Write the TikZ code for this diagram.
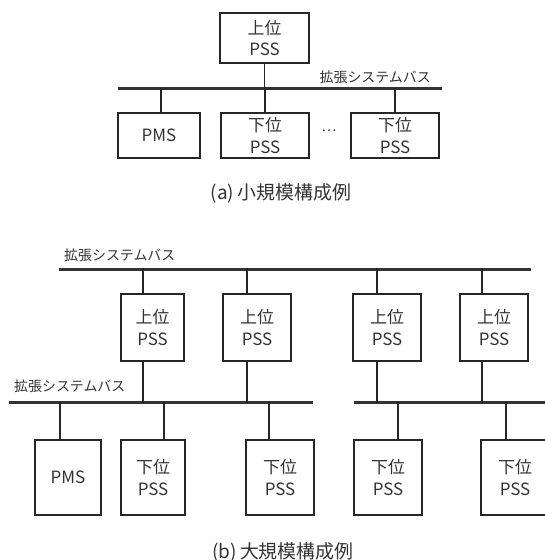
\documentclass[tikz,border=0pt]{standalone}
\usepackage{fontspec}
\setmainfont{Noto Sans CJK JP}
\begin{document}
\begin{tikzpicture}[x=1bp,y=-1bp,
  box/.style={draw=black!85,line width=1.4bp,rectangle,inner sep=0pt,align=center,
    font=\fontsize{17}{22}\selectfont,text=black!80},
  bus/.style={draw=black!80,line width=3bp},
  wire/.style={draw=black!85,line width=1.4bp},
  buslabel/.style={font=\fontsize{14}{15}\selectfont,text=black!80,inner sep=0pt},
  caption/.style={font=\fontsize{19}{20}\selectfont,text=black!80,inner sep=0pt}]
\useasboundingbox (0,0) rectangle (545,560);
% ---------- (a) ----------
\node[box,minimum width=89bp,minimum height=50bp] (ta) at (264.5,38) {上位\\PSS};
\coordinate (abusL) at (118,89);
\coordinate (abusR) at (442,89);
\draw[bus] (abusL) -- (abusR);
\node[buslabel,anchor=east] (alab) at (431,77) {拡張システムバス};
\node[box,minimum width=82bp,minimum height=45bp] (apms) at (159,135.5) {PMS};
\node[box,minimum width=88bp,minimum height=45bp] (al1) at (265,135.5) {下位\\PSS};
\node[box,minimum width=88bp,minimum height=45bp] (al2) at (395,135.5) {下位\\PSS};
\node[font=\fontsize{14}{14}\selectfont,text=black!80,inner sep=0pt] (dots) at (329,131) {…};
\draw[wire] (ta.south) -- (ta.south |- abusL);
\draw[wire] ([xshift=2bp]apms.north) -- ++(0,-24);
\draw[wire] (al1.north) -- ++(0,-24);
\draw[wire] (al2.north) -- ++(0,-24);
\node[caption] (capa) at (281,193) {(a)\,小規模構成例};
% ---------- (b) ----------
\coordinate (tbL) at (59,269);
\coordinate (tbR) at (531,269);
\draw[bus] (tbL) -- (tbR);
\node[buslabel,anchor=west] (tlab) at (64,255) {拡張システムバス};
\coordinate (lbL) at (9,402);
\coordinate (lbM) at (313,402);
\coordinate (rbL) at (354,402);
\coordinate (rbR) at (548,402);
\draw[bus] (lbL) -- (lbM);
\draw[bus] (rbL) -- (rbR);
\node[buslabel,anchor=west] (llab) at (14,386) {拡張システムバス};
% upper PSS
\node[box,minimum width=63bp,minimum height=67bp] (u1) at (152.5,327.5) {上位\\PSS};
\node[box,minimum width=68bp,minimum height=67bp] (u2) at (257,327.5) {上位\\PSS};
\node[box,minimum width=68bp,minimum height=67bp] (u3) at (387,327.5) {上位\\PSS};
\node[box,minimum width=68bp,minimum height=67bp] (u4) at (494,327.5) {上位\\PSS};
\foreach \n/\s in {u1/-9.5,u2/-10,u3/-10,u4/-12}{
  \draw[wire] ([xshift=\s bp]\n.north) -- ++(0,-25);
  \draw[wire] ([xshift=\s bp]\n.south) -- ++(0,41);
}
% lower
\node[box,minimum width=66bp,minimum height=75bp] (pms) at (68,477.5) {PMS};
\node[box,minimum width=64bp,minimum height=75bp] (l1) at (153,477.5) {下位\\PSS};
\node[box,minimum width=68bp,minimum height=75bp] (l2) at (280,477.5) {下位\\PSS};
\node[box,minimum width=68bp,minimum height=75bp] (l3) at (388,477.5) {下位\\PSS};
\node[box,minimum width=68bp,minimum height=75bp] (l4) at (515,477.5) {下位\\PSS};
\foreach \n/\s in {pms/-8,l1/11,l2/-11,l3/10,l4/-9}{
  \draw[wire] ([xshift=\s bp]\n.north) -- ++(0,-38);
}
\node[caption] (capb) at (283,552) {(b)\,大規模構成例};
\end{tikzpicture}
\end{document}
